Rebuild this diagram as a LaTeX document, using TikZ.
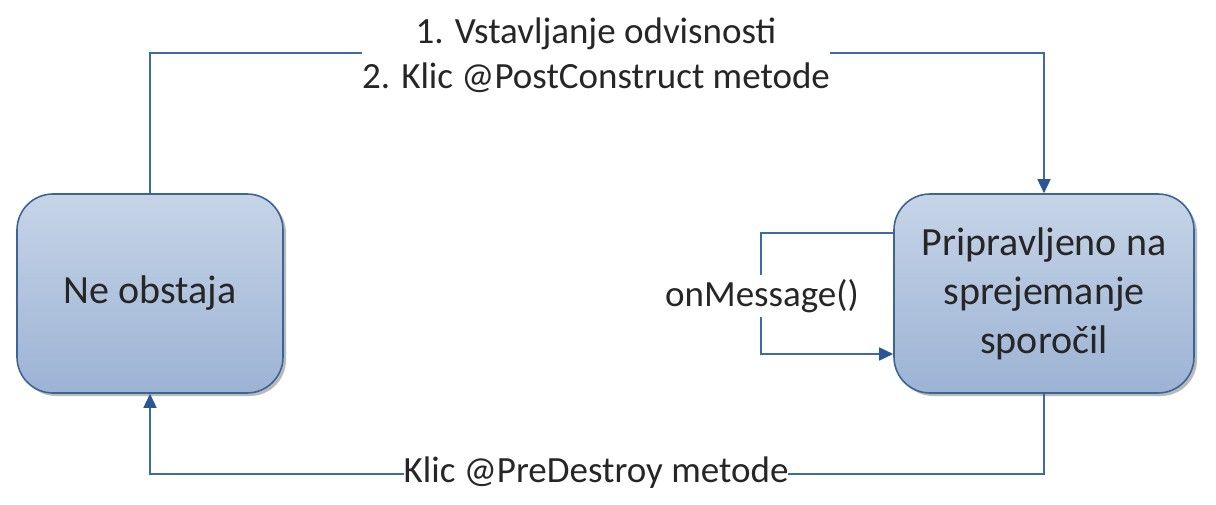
\documentclass[tikz,border=0pt]{standalone}
\usepackage{fontspec}
\setmainfont{Carlito}
\usetikzlibrary{shadows,arrows.meta}
\definecolor{lineblue}{HTML}{3F6AA3}
\definecolor{tipblue}{HTML}{2C5594}
\definecolor{boxtop}{HTML}{C6D4E7}
\definecolor{boxbot}{HTML}{9CB3D4}
\definecolor{boxdraw}{HTML}{3C6496}
\begin{document}
\begin{tikzpicture}[x=1pt,y=-1pt,
  state/.style={draw=boxdraw,line width=1.6pt,rounded corners=36pt,
    top color=boxtop,bottom color=boxbot,minimum width=266pt,minimum height=199pt,
    align=center,font=\fontsize{40}{49}\selectfont,text=black!85,
    drop shadow={shadow xshift=3pt,shadow yshift=-3pt,fill=black!45,opacity=0.6}},
  conn/.style={draw=lineblue,line width=1.6pt},
  arr/.style={conn,-{Triangle[length=14pt,width=13pt,color=tipblue]}},
  lbl/.style={fill=white,inner xsep=0pt,inner ysep=2pt,align=center,
    font=\fontsize{37}{45}\selectfont,text=black!85}]
\useasboundingbox[fill=white] (0,0) rectangle (1216,505);
\node[state] (ne) at (150,293.5) {Ne obstaja};
\node[state,minimum width=300pt] (pr) at (1044,293.5) {Pripravljeno na\\sprejemanje\\sporočil};
\coordinate (tl) at (150,53);
\coordinate (tr) at (1044,53);
\coordinate (bl) at (150,474);
\coordinate (br) at (1044,474);
\coordinate (la) at (761,233);
\coordinate (lb) at (761,354);
\draw[arr] (ne.north -| tl) -- (tl) -- (tr) -- (pr.north -| tr);
\node[lbl] (toplbl) at (596,55) {1. Vstavljanje odvisnosti\\2. Klic @PostConstruct metode};
\draw[arr] (pr.south -| br) -- (br) -- (bl) -- (ne.south -| bl);
\node[lbl] (botlbl) at (596,473) {Klic @PreDestroy metode};
\draw[arr] (pr.west |- la) -- (la) -- (lb) -- (pr.west |- lb);
\node[lbl,inner ysep=4pt] (msg) at (762,296) {onMessage()};
\end{tikzpicture}
\end{document}
